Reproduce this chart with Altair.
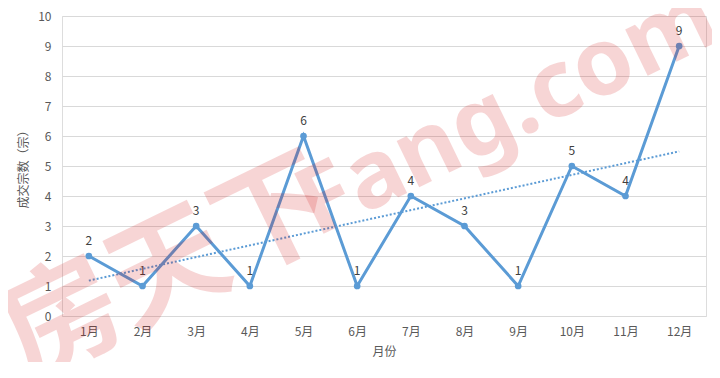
import altair as alt
import pandas as pd

months = ["1月", "2月", "3月", "4月", "5月", "6月", "7月", "8月", "9月", "10月", "11月", "12月"]
counts = [2, 1, 3, 1, 6, 1, 4, 3, 1, 5, 4, 9]
y_ticks = [0, 1, 2, 3, 4, 5, 6, 7, 8, 9, 10]
watermark_cn = ["房天下"]
watermark_en = ["Fang.com"]

df = pd.DataFrame({"idx": list(range(1, len(months) + 1)), "month": months, "value": counts})

label_expr = "[" + ",".join("'%s'" % m for m in months) + "][datum.value - 1]"

FONT = "Noto Sans CJK SC"
BLUE = "#5B9BD5"

x = alt.X(
    "idx:Q",
    scale=alt.Scale(domain=[0.5, 12.5], nice=False, zero=False),
    axis=alt.Axis(
        values=list(range(1, 13)),
        labelExpr=label_expr,
        title="月份",
        grid=False,
        domain=False,
        ticks=False,
        labelPadding=10,
        titlePadding=9,
        labelFontSize=12,
        labelColor="#595959",
        titleFontSize=12,
        titleFontWeight="normal",
        titleColor="#595959",
        labelFont=FONT,
        titleFont=FONT,
    ),
)
y = alt.Y(
    "value:Q",
    scale=alt.Scale(domain=[0, 10], nice=False),
    axis=alt.Axis(
        values=y_ticks,
        title="成交宗数（宗）",
        grid=True,
        gridColor="#d9d9d9",
        domain=False,
        ticks=False,
        labelPadding=11,
        titlePadding=7,
        labelFontSize=12,
        labelColor="#595959",
        titleFontSize=12,
        titleFontWeight="normal",
        titleColor="#595959",
        labelFont=FONT,
        titleFont=FONT,
    ),
)

base = alt.Chart(df)

trend = base.transform_regression("idx", "value", method="linear").mark_line(
    color=BLUE, strokeWidth=2, strokeDash=[2, 2]
).encode(x=x, y=y)

line = base.mark_line(color=BLUE, strokeWidth=3).encode(x=x, y=y)
points = base.mark_circle(color=BLUE, size=45, opacity=1).encode(x=x, y=y)
labels = base.mark_text(dy=-15, fontSize=12, color="#404040", font=FONT).encode(
    x=x, y=y, text="value:Q"
)

wm_cn = alt.Chart(pd.DataFrame({"t": watermark_cn})).mark_text(
    font=FONT, fontWeight="bold", fontSize=118, color="#d00000", opacity=0.16,
    angle=334, align="center", baseline="middle"
).encode(x=alt.value(108), y=alt.value(256), text="t:N")

wm_en = alt.Chart(pd.DataFrame({"t": watermark_en})).mark_text(
    font="Noto Sans", fontWeight="bold",
    fontSize=94, color="#d00000", opacity=0.16,
    angle=334, align="center", baseline="alphabetic"
).encode(x=alt.value(458), y=alt.value(122), text="t:N")

chart = alt.layer(trend, line, points, labels, wm_cn, wm_en).properties(
    width=644,
    height=300,
    autosize=alt.AutoSizeParams(type="none"),
    padding={"left": 54, "top": 8, "right": 6, "bottom": 46},
).configure_view(stroke=None).configure(background="white")

chart.save("out.html", embed_options={"renderer": "svg", "actions": False})
